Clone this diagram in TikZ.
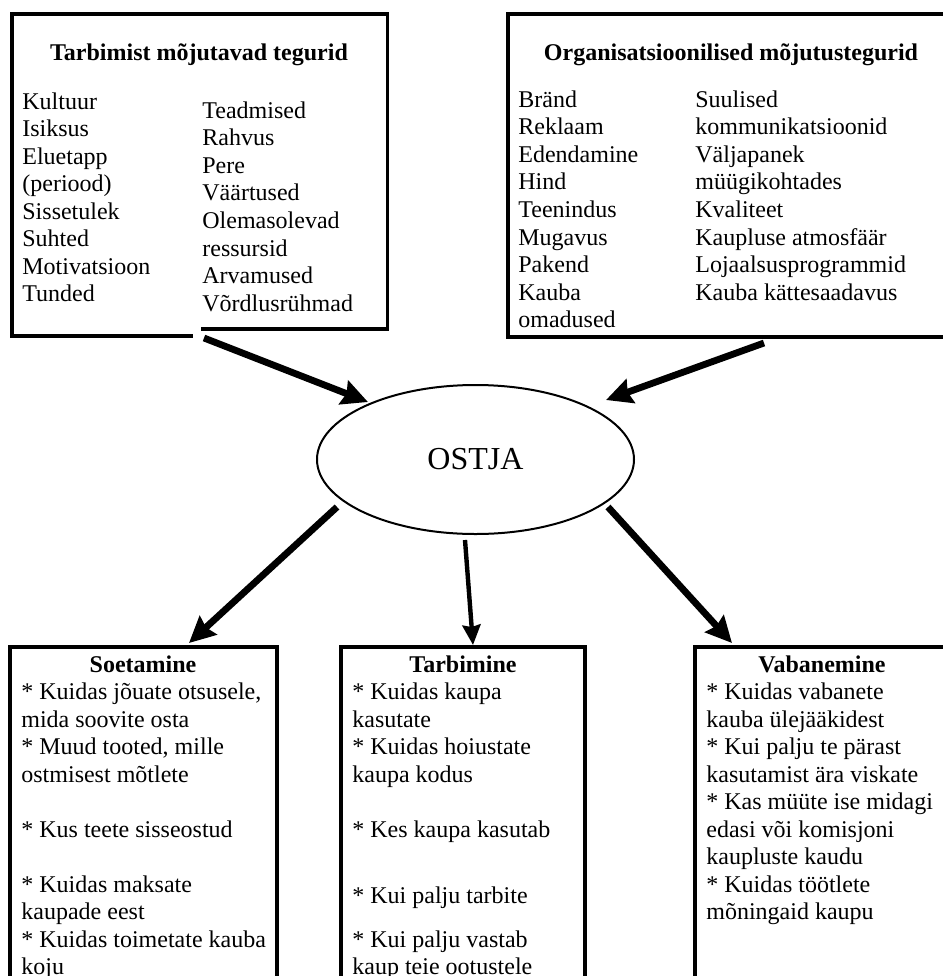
\documentclass[tikz,border=0pt]{standalone}
\usepackage{fontspec}
\setmainfont{Liberation Serif}
\usetikzlibrary{arrows.meta,shapes.geometric}
\tikzset{
  frame/.style={line width=1.6pt, line join=miter},
  txt/.style={anchor=base west, inner sep=0pt, font=\fontsize{12pt}{13.8pt}\selectfont},
  ttl/.style={anchor=base, inner sep=0pt, font=\fontsize{12pt}{13.8pt}\selectfont\bfseries},
  bigarr/.style={line width=3.4pt, -{Stealth[length=13pt,width=12.5pt,inset=1.5pt]}},
  midarr/.style={line width=2.2pt, -{Stealth[length=10pt,width=9pt,inset=1pt]}},
}
\begin{document}
\begin{tikzpicture}[x=0.5pt,y=-0.5pt]
\useasboundingbox (0,0) rectangle (943,976);
\clip (0,0) rectangle (943,976);
\fill[white] (0,0) rectangle (943,976);

% ---- top left box ----
\draw[frame] (201,329) -- (387.5,329) -- (387.5,14) -- (12,14) -- (12,336) -- (193,336);
\node[ttl] (tlt) at (199,60) {Tarbimist mõjutavad tegurid};
\foreach \t [count=\i from 0] in {Kultuur,Isiksus,Eluetapp,(periood),Sissetulek,Suhted,Motivatsioon,Tunded}
  \node[txt] (tla\i) at (22,{109+27.5*\i}) {\t};
\foreach \t [count=\i from 0] in {Teadmised,Rahvus,Pere,Väärtused,Olemasolevad,ressursid,Arvamused,Võrdlusrühmad}
  \node[txt] (tlb\i) at (202,{118+27.6*\i}) {\t};

% ---- top right box ----
\draw[frame] (960,14) -- (508,14) -- (508,337) -- (960,337);
\node[ttl] (trt) at (731,60) {Organisatsioonilised mõjutustegurid};
\foreach \t [count=\i from 0] in {Bränd,Reklaam,Edendamine,Hind,Teenindus,Mugavus,Pakend,Kauba,omadused}
  \node[txt] (tra\i) at (518,{107+27.6*\i}) {\t};
\foreach \t [count=\i from 0] in {Suulised,kommunikatsioonid,Väljapanek,müügikohtades,Kvaliteet,Kaupluse atmosfäär,Lojaalsusprogrammid,Kauba kättesaadavus}
  \node[txt] (trb\i) at (695,{107+27.6*\i}) {\t};

% ---- centre ----
\node[draw, ellipse, line width=1pt, inner sep=0pt, minimum width=158.5pt, minimum height=74.5pt,
      font=\fontsize{16pt}{18pt}\selectfont] (ost) at (475.5,459.5) {OSTJA};

% ---- bottom boxes ----
\draw[frame] (10,990) -- (10,647) -- (277,647) -- (277,990);
\draw[frame] (341,990) -- (341,647) -- (585,647) -- (585,990);
\draw[frame] (695,990) -- (695,647) -- (960,647);

\node[ttl] (sot) at (143,672) {Soetamine};
\foreach \k/\t in {1/{* Kuidas jõuate otsusele,},2/{mida soovite osta},3/{* Muud tooted, mille},4/{ostmisest mõtlete},6/{* Kus teete sisseostud},8/{* Kuidas maksate},9/{kaupade eest},10/{* Kuidas toimetate kauba},11/{koju}}
  \node[txt] (so\k) at (21,{672+27.5*\k}) {\t};

\node[ttl] (tat) at (463,672) {Tarbimine};
\foreach \k/\t [count=\i] in {1/{* Kuidas kaupa},2/{kasutate},3/{* Kuidas hoiustate},4/{kaupa kodus},6/{* Kes kaupa kasutab},8.4/{* Kui palju tarbite},10/{* Kui palju vastab},11/{kaup teie ootustele}}
  \node[txt] (ta\i) at (352,{672+27.5*\k}) {\t};

\node[ttl] (vat) at (822,672) {Vabanemine};
\foreach \t [count=\i from 1] in {{* Kuidas vabanete},{kauba ülejääkidest},{* Kui palju te pärast},{kasutamist ära viskate},{* Kas müüte ise midagi},{edasi või komisjoni},{kaupluste kaudu},{* Kuidas töötlete},{mõningaid kaupu}}
  \node[txt] (va\i) at (706,{672+27.5*\i}) {\t};

% ---- arrows ----
\coordinate (a1s) at (204,338); \coordinate (a1e) at (368,402);
\coordinate (a2s) at (764,343); \coordinate (a2e) at (606,400);
\coordinate (a3s) at (337,507); \coordinate (a3e) at (189,643);
\coordinate (a4s) at (465,540); \coordinate (a4e) at (473,645);
\coordinate (a5s) at (608,507); \coordinate (a5e) at (732,643);
\draw[bigarr] (a1s) -- (a1e);
\draw[bigarr] (a2s) -- (a2e);
\draw[bigarr] (a3s) -- (a3e);
\draw[midarr] (a4s) -- (a4e);
\draw[bigarr] (a5s) -- (a5e);
\end{tikzpicture}
\end{document}
